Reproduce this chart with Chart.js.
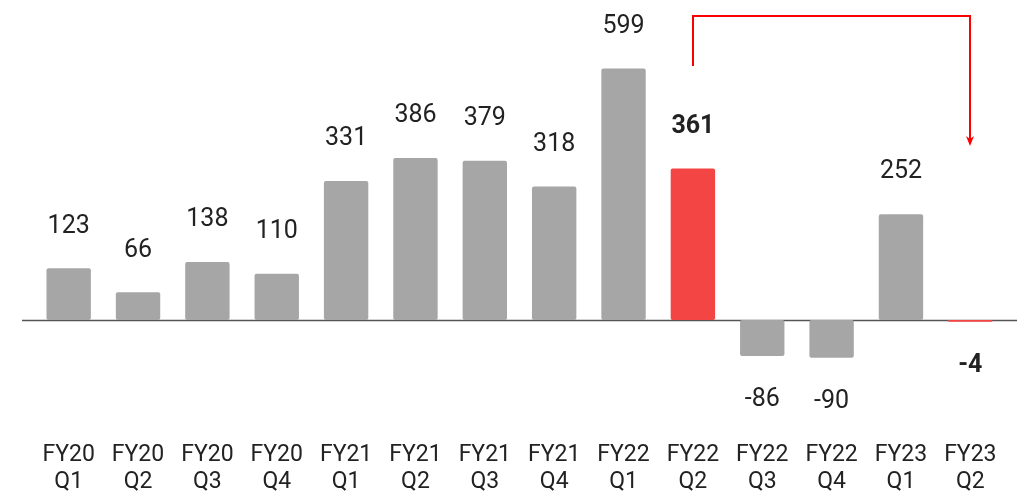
<!DOCTYPE html>
<html lang="en">
  <head>
    <meta charset="UTF-8" />
    <title>Quarterly values</title>
    <script src="https://cdn.jsdelivr.net/npm/chart.js"></script>
    <style>
      html, body {
        margin: 0;
        padding: 0;
        overflow: hidden;
        background: #ffffff;
      }
      canvas {
        display: block;
      }
    </style>
  </head>
  <body>
    <canvas id="quarterChart" width="1019" height="491"></canvas>
    <script>
      const fiscalYears = ["FY20", "FY20", "FY20", "FY20", "FY21", "FY21", "FY21", "FY21", "FY22", "FY22", "FY22", "FY22", "FY23", "FY23"];
      const quarters = ["Q1", "Q2", "Q3", "Q4", "Q1", "Q2", "Q3", "Q4", "Q1", "Q2", "Q3", "Q4", "Q1", "Q2"];
      const values = [123, 66, 138, 110, 331, 386, 379, 318, 599, 361, -86, -90, 252, -4];
      const highlighted = [9, 13]; // red bars, bold labels
      const arrowFrom = 9;
      const arrowTo = 13;

      const labels = fiscalYears.map((fy, i) => [fy, quarters[i]]);
      const barColors = values.map((v, i) => (highlighted.includes(i) ? "#f44545" : "#a6a6a6"));

      // value labels above / below each bar
      const valueLabels = {
        id: "valueLabels",
        afterDatasetsDraw(chart) {
          const ctx = chart.ctx;
          const meta = chart.getDatasetMeta(0);
          ctx.save();
          ctx.fillStyle = "#222222";
          ctx.textAlign = "center";
          ctx.textBaseline = "middle";
          meta.data.forEach((bar, i) => {
            const v = values[i];
            const bold = highlighted.includes(i);
            ctx.font = (bold ? "bold " : "") + "25px Roboto";
            const y = v >= 0 ? bar.y - 42 : bar.y + 44;
            ctx.fillText(String(v), bar.x, y);
          });
          ctx.restore();
        },
      };

      // zero line, wider than the plot area, under the bars
      const zeroLine = {
        id: "zeroLine",
        beforeDatasetsDraw(chart) {
          const ctx = chart.ctx;
          const area = chart.chartArea;
          const y = Math.round(chart.scales.y.getPixelForValue(0)) + 0.5;
          ctx.save();
          ctx.strokeStyle = "#555555";
          ctx.lineWidth = 1.5;
          ctx.beginPath();
          ctx.moveTo(area.left - 12, y);
          ctx.lineTo(area.right + 12, y);
          ctx.stroke();
          ctx.restore();
        },
      };

      // red elbow arrow from FY22 Q2 to FY23 Q2
      const elbowArrow = {
        id: "elbowArrow",
        afterDraw(chart) {
          const ctx = chart.ctx;
          const area = chart.chartArea;
          const x1 = Math.round(chart.scales.x.getPixelForValue(arrowFrom));
          const x2 = Math.round(chart.scales.x.getPixelForValue(arrowTo));
          const yTop = area.top - 10;
          const yStart = area.top + 40;
          const yEnd = area.top + 120;
          ctx.save();
          ctx.strokeStyle = "#ff0000";
          ctx.fillStyle = "#ff0000";
          ctx.lineWidth = 2;
          ctx.beginPath();
          ctx.moveTo(x1, yStart);
          ctx.lineTo(x1, yTop);
          ctx.lineTo(x2, yTop);
          ctx.lineTo(x2, yEnd - 6);
          ctx.stroke();
          ctx.beginPath();
          ctx.moveTo(x2, yEnd);
          ctx.lineTo(x2 - 4, yEnd - 10);
          ctx.lineTo(x2, yEnd - 7);
          ctx.lineTo(x2 + 4, yEnd - 10);
          ctx.closePath();
          ctx.fill();
          ctx.restore();
        },
      };

      new Chart(document.getElementById("quarterChart"), {
        type: "bar",
        data: {
          labels: labels,
          datasets: [
            {
              data: values,
              backgroundColor: barColors,
              borderRadius: 2,
              borderSkipped: false,
              barPercentage: 0.64,
              categoryPercentage: 1,
            },
          ],
        },
        options: {
          responsive: false,
          animation: false,
          layout: {
            padding: { top: 26, left: 34, right: 14, bottom: 0 },
          },
          scales: {
            x: {
              grid: { display: false, drawTicks: false },
              border: { display: false },
              afterFit(scale) {
                scale.height = 87;
                scale.paddingLeft = 0;
                scale.paddingRight = 0;
              },
              ticks: {
                color: "#222222",
                padding: 38,
                maxRotation: 0,
                autoSkip: false,
                font: { family: "Roboto", size: 23, lineHeight: 1.17 },
              },
            },
            y: {
              display: false,
              min: -200,
              max: 700,
            },
          },
          plugins: {
            legend: { display: false },
            tooltip: { enabled: false },
          },
        },
        plugins: [zeroLine, valueLabels, elbowArrow],
      });
    </script>
  </body>
</html>
